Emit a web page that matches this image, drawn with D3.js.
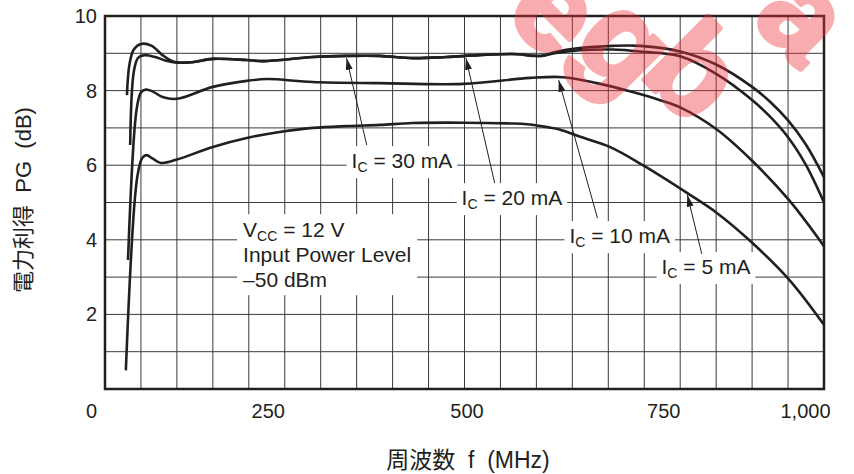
<!DOCTYPE html>
<html>
<head>
<meta charset="utf-8">
<script src="https://cdn.jsdelivr.net/npm/d3@7/dist/d3.min.js"></script>
<style>
  body { margin: 0; background: #fff; }
  svg { display: block; font-family: "Liberation Sans", Arial, "Noto Sans CJK JP", sans-serif; }
</style>
</head>
<body>
<div id="wrapper"></div>
<script>
// tick labels
const xTicks = [0, 250, 500, 750, 1000];
const yTicks = [2, 4, 6, 8, 10];

// power gain curves, [f (MHz), PG (dB)]
const ic30 = [[30.5, 7.88], [34, 8.7], [40, 9.1], [50, 9.25], [65, 9.2], [80, 8.95], [95, 8.78],
  [120, 8.76], [150, 8.85], [197, 8.82], [220, 8.79], [289, 8.9], [336, 8.93], [382, 8.93],
  [428, 8.87], [475, 8.9], [520, 8.95], [567, 8.98], [607, 8.93], [625, 9.03], [660, 9.14],
  [706, 9.2], [744, 9.2], [800, 9.05], [850, 8.7], [900, 8.1], [925, 7.7], [950, 7.2],
  [975, 6.55], [1000, 5.68]];
const ic20 = [[35, 6.54], [40, 8.5], [46, 8.88], [55, 8.95], [70, 8.9], [85, 8.8], [100, 8.75],
  [120, 8.76], [150, 8.85], [197, 8.82], [220, 8.79], [289, 8.9], [336, 8.93], [382, 8.93],
  [428, 8.87], [475, 8.9], [520, 8.95], [567, 8.98], [607, 8.93], [625, 9.0], [660, 9.08],
  [706, 9.1], [744, 9.05], [800, 8.92], [850, 8.45], [900, 7.75], [925, 7.3], [950, 6.75],
  [975, 6.0], [1000, 5.0]];
const ic10 = [[32, 3.46], [44, 7.5], [50, 7.95], [57, 8.03], [66, 7.98], [80, 7.83], [100, 7.78],
  [150, 8.1], [197, 8.26], [225, 8.31], [289, 8.23], [382, 8.2], [498, 8.18], [591, 8.34],
  [637, 8.36], [684, 8.2], [730, 7.98], [771, 7.75], [800, 7.55], [850, 6.97], [900, 6.12],
  [952, 5.05], [1000, 3.83]];
const ic5 = [[29, 0.5], [45, 5.7], [52, 6.2], [58, 6.27], [66, 6.18], [78, 6.06], [100, 6.15],
  [150, 6.49], [197, 6.73], [243, 6.89], [289, 7.0], [337, 7.05], [382, 7.08], [428, 7.13],
  [498, 7.14], [560, 7.12], [587, 7.1], [615, 7.02], [632, 6.96], [661, 6.76], [702, 6.49],
  [748, 6.0], [810, 5.25], [851, 4.72], [899, 3.94], [952, 2.92], [1000, 1.72]];
const series = [ic30, ic20, ic10, ic5];

// curve labels: text anchor, arrow tip and arrow tail in data units
const curveNotes = [
  { value: "30 mA", at: [343, 5.92], tip: [336, 8.87], tail: [364, 6.54] },
  { value: "20 mA", at: [496, 4.93], tip: [502, 8.87], tail: [542, 5.52] },
  { value: "10 mA", at: [646, 3.91], tip: [631, 8.28], tail: [685, 4.58] },
  { value: "5 mA", at: [774, 3.08], tip: [810, 5.2], tail: [830, 3.62] }
];
const conditions = ["= 12 V", "Input Power Level", "\u201350 dBm"];
const conditionsAt = [192, 4.07];

// stray letters of the scan's watermark (centre in px, glyph)
const watermark = [[558, 8, "e"], [628, 42, "g"], [696, 70, "b"], [806, 14, "a"]];

const dimensions = {
  width: 854,
  height: 474,
  margin: { top: 16, right: 30, bottom: 85, left: 105 }
};
dimensions.boundedWidth = dimensions.width - dimensions.margin.left - dimensions.margin.right;
dimensions.boundedHeight = dimensions.height - dimensions.margin.top - dimensions.margin.bottom;

const wrapper = d3.select("#wrapper")
  .append("svg")
  .attr("width", dimensions.width)
  .attr("height", dimensions.height);

const bounds = wrapper.append("g")
  .attr("transform", `translate(${dimensions.margin.left},${dimensions.margin.top})`);

const xScale = d3.scaleLinear().domain([0, 1000]).range([0, dimensions.boundedWidth]);
const yScale = d3.scaleLinear().domain([0, 10]).range([dimensions.boundedHeight, 0]);

// grid
bounds.append("g").selectAll("line")
  .data(d3.range(50, 1000, 50))
  .join("line")
  .attr("x1", d => xScale(d)).attr("x2", d => xScale(d))
  .attr("y1", 0).attr("y2", dimensions.boundedHeight)
  .attr("stroke", "#3a3a3a").attr("stroke-width", 1);
bounds.append("g").selectAll("line")
  .data(d3.range(1, 10, 1))
  .join("line")
  .attr("x1", 0).attr("x2", dimensions.boundedWidth)
  .attr("y1", d => yScale(d)).attr("y2", d => yScale(d))
  .attr("stroke", "#3a3a3a").attr("stroke-width", 1);

// axes
const xAxis = bounds.append("g")
  .attr("transform", `translate(0,${dimensions.boundedHeight})`)
  .call(d3.axisBottom(xScale).tickValues(xTicks).tickSize(0).tickPadding(15).tickFormat(d3.format(",")));
const yAxis = bounds.append("g")
  .call(d3.axisLeft(yScale).tickValues(yTicks).tickSize(0).tickPadding(8));
[xAxis, yAxis].forEach(a => {
  a.select(".domain").remove();
  a.attr("font-family", null).attr("font-size", 20);
  a.selectAll("text").attr("fill", "#231f20");
});
xAxis.selectAll("text").attr("dx", (d, i) => [-14, -17, 2, 19, -19][i]);

// white boxes behind text
const labelLayer = bounds.append("g");
const textLayer = bounds.append("g").attr("font-size", 21).attr("fill", "#231f20");

function box(sel, pad) {
  const b = sel.node().getBBox();
  labelLayer.append("rect")
    .attr("x", b.x - pad).attr("y", b.y - pad + 2)
    .attr("width", b.width + pad * 2).attr("height", b.height + pad * 2 - 4)
    .attr("fill", "#fff");
}

curveNotes.forEach(n => {
  const t = textLayer.append("text")
    .attr("x", xScale(n.at[0])).attr("y", yScale(n.at[1]));
  t.append("tspan").text("I");
  t.append("tspan").attr("font-size", 14).attr("dy", 4).text("C");
  t.append("tspan").attr("dy", -4).text(" = " + n.value);
  box(t, 5);
});

const cond = textLayer.append("text")
  .attr("x", xScale(conditionsAt[0])).attr("y", yScale(conditionsAt[1]));
cond.append("tspan").text("V");
cond.append("tspan").attr("font-size", 14).attr("dy", 4).text("CC");
cond.append("tspan").attr("dy", -4).text(" " + conditions[0]);
conditions.slice(1).forEach((c, i) => {
  cond.append("tspan").attr("x", xScale(conditionsAt[0])).attr("dy", 25).text(c);
});
box(cond, 6);

// arrows
wrapper.append("defs").append("marker")
  .attr("id", "head")
  .attr("viewBox", "0 0 10 6")
  .attr("refX", 10).attr("refY", 3)
  .attr("markerWidth", 12).attr("markerHeight", 7)
  .attr("markerUnits", "userSpaceOnUse")
  .attr("orient", "auto")
  .append("path").attr("d", "M0,0L10,3L0,6Z").attr("fill", "#231f20");

bounds.append("g").selectAll("line")
  .data(curveNotes)
  .join("line")
  .attr("x1", d => xScale(d.tail[0])).attr("y1", d => yScale(d.tail[1]))
  .attr("x2", d => xScale(d.tip[0])).attr("y2", d => yScale(d.tip[1]))
  .attr("stroke", "#231f20").attr("stroke-width", 1)
  .attr("marker-end", "url(#head)");

// curves
const lineGenerator = d3.line()
  .x(d => xScale(d[0]))
  .y(d => yScale(d[1]))
  .curve(d3.curveCatmullRom.alpha(0.5));

bounds.append("g").selectAll("path")
  .data(series)
  .join("path")
  .attr("d", lineGenerator)
  .attr("fill", "none")
  .attr("stroke", "#231f20")
  .attr("stroke-width", 2.6)
  .attr("stroke-linejoin", "round");

// frame
bounds.append("rect")
  .attr("width", dimensions.boundedWidth).attr("height", dimensions.boundedHeight)
  .attr("fill", "none").attr("stroke", "#231f20").attr("stroke-width", 2.5);

textLayer.raise();

// titles
wrapper.append("text")
  .attr("transform", "translate(31,200) rotate(-90)")
  .attr("text-anchor", "middle")
  .attr("font-size", 22)
  .attr("fill", "#231f20")
  .style("white-space", "pre")
  .text("電力利得  PG  (dB)");

wrapper.append("text")
  .attr("x", 468)
  .attr("y", 468)
  .attr("text-anchor", "middle")
  .attr("font-size", 23)
  .attr("fill", "#231f20")
  .style("white-space", "pre")
  .text("周波数  f  (MHz)");

// watermark
wrapper.append("g")
  .attr("fill", "#f0323c").attr("stroke", "#f0323c").attr("stroke-width", 5)
  .attr("stroke-linejoin", "round")
  .attr("opacity", 0.4)
  .attr("font-size", 125).attr("font-weight", "bold")
  .selectAll("text")
  .data(watermark)
  .join("text")
  .attr("transform", d => `translate(${d[0]},${d[1]}) rotate(45)`)
  .attr("text-anchor", "middle")
  .attr("dy", "0.35em")
  .text(d => d[2]);
</script>
</body>
</html>
